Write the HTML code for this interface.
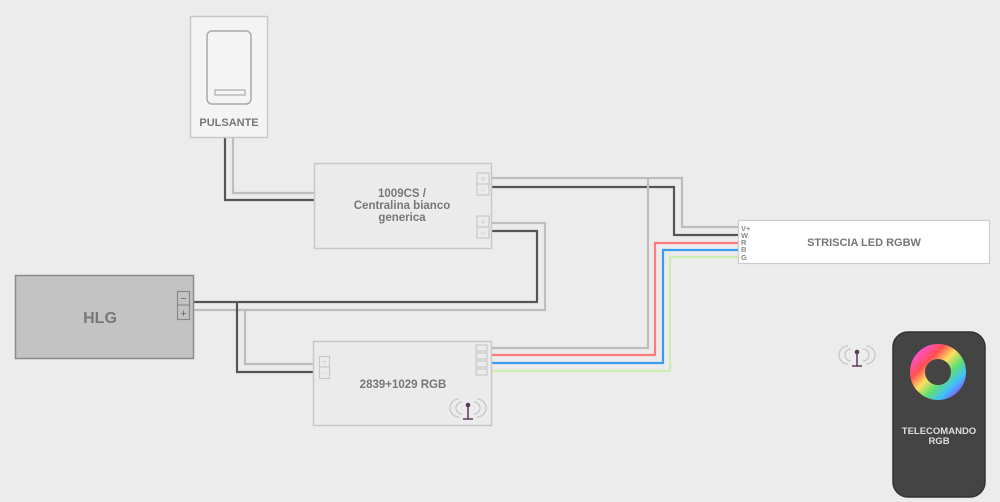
<!DOCTYPE html>
<html><head><meta charset="utf-8"><style>
html,body{margin:0;padding:0;background:#ececec;}
svg{display:block;font-family:"Liberation Sans",sans-serif;}
</style></head><body>
<svg width="1000" height="502" viewBox="0 0 1000 502">
<defs>
<linearGradient id="g1" x1="0" y1="0" x2="1" y2="1">
<stop offset="0" stop-color="#ff4fd8"/><stop offset="0.25" stop-color="#ff5050"/><stop offset="0.45" stop-color="#ffe060"/><stop offset="0.65" stop-color="#60e070"/><stop offset="0.85" stop-color="#40c0ff"/><stop offset="1" stop-color="#8060ff"/>
</linearGradient>
</defs>
<rect width="1000" height="502" fill="#ececec"/>
<g fill="none" stroke-width="2.2">
<!-- pulsante wires -->
<polyline points="233,137 233,193 314,193" stroke="#bdbdbd"/>
<polyline points="225,137 225,200 314,200" stroke="#555"/>
<!-- 1009 top out -->
<polyline points="491,178 682,178 682,227 738,227" stroke="#bdbdbd"/>
<polyline points="491,187 674,187 674,235 738,235" stroke="#555"/>
<polyline points="648,178 648,348 491,348" stroke="#bdbdbd"/>
<!-- 1009 bottom to HLG -->
<polyline points="491,223 545,223 545,310 194,310" stroke="#bdbdbd"/>
<polyline points="491,231 537,231 537,302 194,302" stroke="#555"/>
<polyline points="245,310 245,364 314,364" stroke="#bdbdbd"/>
<polyline points="237,302 237,372 314,372" stroke="#555"/>
<!-- RGB -->
<polyline points="491,355 655,355 655,243 738,243" stroke="#ff7b7b"/>
<polyline points="491,363 663,363 663,250 738,250" stroke="#3a9cf0"/>
<polyline points="491,371 670,371 670,257 738,257" stroke="#cdeeb0"/>
</g>
<!-- pulsante -->
<rect x="190.5" y="16.5" width="77" height="121" fill="#f4f4f4" stroke="#c8c8c8" stroke-width="1.5"/>
<rect x="207" y="31" width="44" height="73" rx="5" fill="#f4f4f4" stroke="#aaa" stroke-width="1.5"/>
<rect x="215" y="90" width="30" height="5" fill="none" stroke="#aaa" stroke-width="1.2"/>
<text x="229" y="126" font-size="11" font-weight="bold" fill="#777" text-anchor="middle">PULSANTE</text>
<!-- 1009CS -->
<rect x="314.5" y="163.5" width="177" height="85" fill="#ebebeb" stroke="#c8c8c8" stroke-width="1.5"/>
<g fill="none" stroke="#c8c8c8" stroke-width="1.2">
<rect x="477" y="173" width="12" height="22"/><line x1="477" y1="184" x2="489" y2="184"/>
<rect x="477" y="216" width="12" height="22"/><line x1="477" y1="227" x2="489" y2="227"/>
</g>
<g font-size="9" fill="#ccc" text-anchor="middle"><text x="483" y="182">+</text><text x="483" y="193">−</text><text x="483" y="225">+</text><text x="483" y="236">−</text></g>
<g font-size="11.5" font-weight="bold" fill="#777" text-anchor="middle">
<text x="402" y="197">1009CS /</text><text x="402" y="209">Centralina bianco</text><text x="402" y="221">generica</text></g>
<!-- HLG -->
<rect x="15.5" y="275.5" width="178" height="83" fill="#c3c3c3" stroke="#8a8a8a" stroke-width="1.5"/>
<rect x="177.5" y="291.5" width="12" height="28" fill="none" stroke="#888" stroke-width="1.2"/>
<line x1="177" y1="305" x2="190" y2="305" stroke="#888" stroke-width="1.2"/>
<g font-size="11" fill="#666" text-anchor="middle"><text x="183.5" y="302">−</text><text x="183.5" y="317">+</text></g>
<text x="100" y="323" font-size="16" font-weight="bold" fill="#777" text-anchor="middle">HLG</text>
<!-- RGB controller -->
<rect x="313.5" y="341.5" width="178" height="84" fill="#ebebeb" stroke="#c8c8c8" stroke-width="1.5"/>
<rect x="319.5" y="356.5" width="10" height="22" fill="none" stroke="#c8c8c8" stroke-width="1.2"/>
<line x1="319" y1="367" x2="330" y2="367" stroke="#c8c8c8" stroke-width="1.2"/>
<g font-size="9" fill="#ccc" text-anchor="middle"><text x="324.5" y="365">+</text><text x="324.5" y="376">−</text></g>
<g fill="none" stroke="#c8c8c8" stroke-width="1.2">
<rect x="476" y="345" width="11" height="6"/><rect x="476" y="353" width="11" height="6"/><rect x="476" y="361" width="11" height="6"/><rect x="476" y="369" width="11" height="6"/></g>
<text x="403" y="388" font-size="11.5" font-weight="bold" fill="#777" text-anchor="middle">2839+1029 RGB</text>
<g id="ant">
<g fill="none" stroke="#c8c8c8" stroke-width="1.3">
<path d="M462,402 a6,6 0 0 0 0,12"/><path d="M459,399 a9,9 0 0 0 0,18"/>
<path d="M474,402 a6,6 0 0 1 0,12"/><path d="M477,399 a9,9 0 0 1 0,18"/>
</g>
<circle cx="468" cy="405" r="2.3" fill="#5a3a5a"/>
<line x1="468" y1="405" x2="468" y2="419" stroke="#5a3a5a" stroke-width="1.5"/>
<line x1="463" y1="419" x2="473" y2="419" stroke="#5a3a5a" stroke-width="1.5"/>
</g>
<use href="#ant" transform="translate(389,-53)"/>
<!-- strip -->
<rect x="738.5" y="220.5" width="251" height="43" fill="#fff" stroke="#ccc" stroke-width="1.2"/>
<g font-size="7.5" font-weight="bold" fill="#888"><text x="741" y="231">V+</text><text x="741" y="238">W</text><text x="741" y="245">R</text><text x="741" y="252">B</text><text x="741" y="260">G</text></g>
<text x="864" y="246" font-size="11" font-weight="bold" fill="#777" text-anchor="middle">STRISCIA LED RGBW</text>
<!-- remote -->
<rect x="893" y="332" width="92" height="165" rx="15" fill="#444" stroke="#333" stroke-width="1.5"/>
<circle cx="938" cy="372" r="20.5" fill="none" stroke="url(#g1)" stroke-width="15"/>
<text x="939" y="434" font-size="9.5" font-weight="bold" fill="#ddd" text-anchor="middle">TELECOMANDO</text>
<text x="939" y="444" font-size="9.5" font-weight="bold" fill="#ddd" text-anchor="middle">RGB</text>
</svg>
</body></html>
